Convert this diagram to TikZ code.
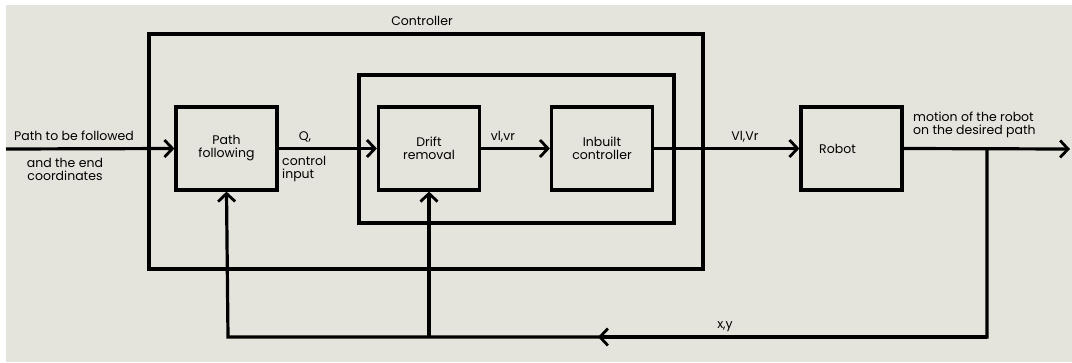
\documentclass[tikz,border=0pt]{standalone}
\usepackage{fontspec}
\setmainfont{Poppins}
\usetikzlibrary{arrows.meta}
\definecolor{bg}{RGB}{229,228,220}
\begin{document}
\begin{tikzpicture}[x=1pt,y=-1pt,
  blk/.style={draw,line width=3.2pt,minimum width=101pt,minimum height=83pt,align=center,inner sep=0pt,font=\fontsize{12.5}{13}\selectfont},
  frame/.style={draw,line width=3.2pt},
  wire/.style={line width=3.2pt,line join=miter},
  arr/.style={wire,-{Straight Barb[length=8pt,width=17pt,line width=2.8pt]}},
  lbl/.style={font=\fontsize{12.5}{13}\selectfont,inner sep=0pt,align=left}]
\useasboundingbox (0,0) rectangle (1072,362);
\fill[white] (0,0) rectangle (1072,362);
\fill[bg] (6,5) rectangle (1072,362);
% frames
\draw[frame] (149,34) rectangle (703,269);
\draw[frame] (359,75) rectangle (674,223);
% blocks
\node[blk] (pf) at (226.5,148.5) {Path\\following};
\node[blk] (dr) at (429,148.5) {Drift\\removal};
\node[blk] (ic) at (602,148.5) {Inbuilt\\controller};
\node[blk] (rb) at (851.5,148.5) {\hspace*{-28pt}Robot};
\coordinate (in) at (6,149);
\coordinate (out) at (1070,149);
\coordinate (tap) at (987,149);
\coordinate (bR) at (987,337);
\coordinate (bM) at (429,337);
\coordinate (bL) at (228,337);
\coordinate (bA) at (598,337);
% connectors
\draw[arr] (in) -- (pf.west);
\draw[arr] (pf.east) -- (dr.west);
\draw[arr] (dr.east) -- (ic.west);
\draw[arr] (ic.east) -- (rb.west);
\draw[arr] (rb.east) -- (out);
\draw[arr] (tap) -- (bR) -- (bL) -- (pf.south);
\draw[arr] (bR) -- (bA);
\draw[arr] (bM) -- (dr.south);
% labels
\node[lbl] (lc) at (422,21) {Controller};
\node[lbl] (l1) at (74,136) {Path to be followed};
\node[lbl,align=center] (l2) at (65,169) {and the end\\coordinates};
\node[lbl] (lq) at (305,137) {Q,};
\node[lbl,anchor=west] (lci) at (282,169) {control\\input};
\node[lbl] (lv1) at (503,137) {vl,vr};
\node[lbl] (lv2) at (745,137) {Vl,Vr};
\node[lbl,anchor=west] (lm) at (913,125) {motion of the robot\\on the desired path};
\node[lbl] (lxy) at (725,327) {x,y};
\end{tikzpicture}
\end{document}
